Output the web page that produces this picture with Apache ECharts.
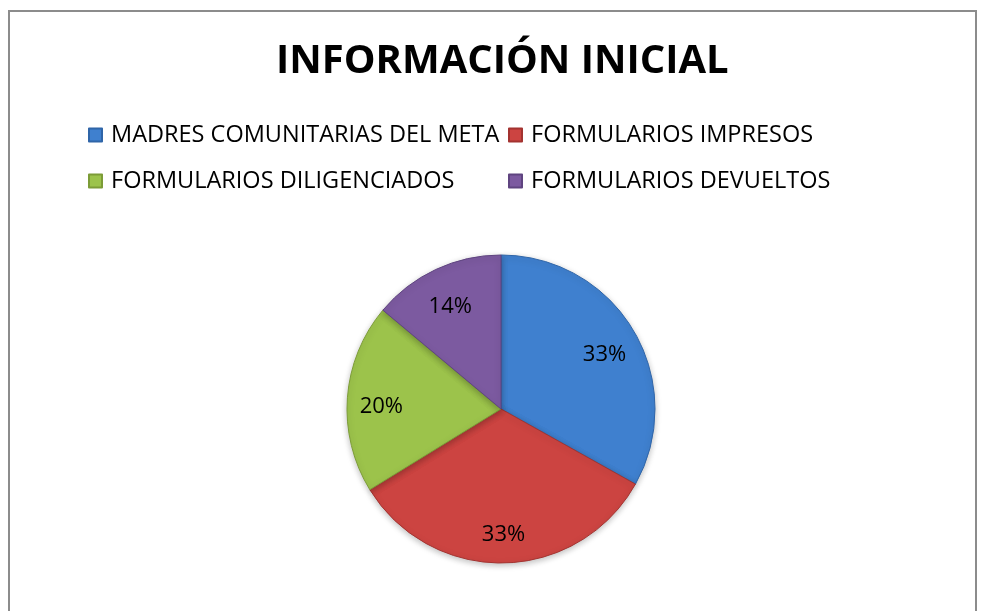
<!DOCTYPE html>
<html>
<head>
<meta charset="utf-8">
<script src="https://cdn.jsdelivr.net/npm/echarts@6/dist/echarts.min.js"></script>
<style>
  html, body { margin: 0; padding: 0; background: #fff; }
  #frame { position: absolute; left: 8px; top: 10px; width: 969px; height: 620px; border: 2px solid #8c8c8c; box-sizing: border-box; }
  #chart { position: absolute; left: 0; top: 0; width: 981px; height: 611px; }
</style>
</head>
<body>
<div id="frame"></div>
<div id="chart"></div>
<script>
// datos de la gráfica
const categories = ['MADRES COMUNITARIAS DEL META', 'FORMULARIOS IMPRESOS', 'FORMULARIOS DILIGENCIADOS', 'FORMULARIOS DEVUELTOS']
const values = [100, 100, 60, 42]
const colors = ['#3f80cf', '#cc4441', '#9cc34b', '#7c5aa0']
const borders = ['#2f65a8', '#a33330', '#7c9c37', '#5f4480']

const chart = echarts.init(document.getElementById('chart'))
const FONT = 'Open Sans'

const pieData = categories.map((name, i) => ({
    name: name,
    value: values[i],
    itemStyle: { color: colors[i], borderColor: borders[i], borderWidth: 1 }
}))

const legendText = { fontFamily: FONT, fontSize: 23.5, color: '#000', padding: [0, 0, 0, 4] }

const option = {
    backgroundColor: 'transparent',
    animation: false,
    title: {
        text: 'INFORMACIÓN INICIAL',
        left: 271,
        top: 37,
        textStyle: { fontFamily: FONT, fontWeight: 'bold', fontSize: 40, color: '#000' }
    },
    legend: [
        {
            data: [categories[0], categories[2]],
            orient: 'vertical',
            left: 83,
            top: 118,
            itemGap: 22,
            itemWidth: 13,
            itemHeight: 13,
            icon: 'rect',
            textStyle: legendText
        },
        {
            data: [categories[1], categories[3]],
            orient: 'vertical',
            left: 503,
            top: 118,
            itemGap: 22,
            itemWidth: 13,
            itemHeight: 13,
            icon: 'rect',
            textStyle: legendText
        }
    ],
    series: [
        {
            type: 'pie',
            center: [501, 409],
            radius: [0, 154],
            startAngle: 90,
            clockwise: true,
            silent: true,
            label: { show: false },
            labelLine: { show: false },
            itemStyle: { shadowBlur: 6, shadowColor: 'rgba(0,0,0,0.25)', shadowOffsetY: 2 },
            data: pieData
        },
        {
            // capa transparente solo para ubicar las etiquetas
            type: 'pie',
            center: [501, 409],
            radius: [80, 154],
            startAngle: 90,
            clockwise: true,
            silent: true,
            label: {
                show: true,
                position: 'inside',
                formatter: p => Math.round(p.percent) + '%',
                fontFamily: FONT,
                fontSize: 22,
                color: '#000',
                offset: [0, 6]
            },
            labelLine: { show: false },
            itemStyle: { color: 'rgba(0,0,0,0)' },
            data: categories.map((name, i) => ({ name: name, value: values[i] }))
        }
    ]
}

chart.setOption(option)
</script>
</body>
</html>
